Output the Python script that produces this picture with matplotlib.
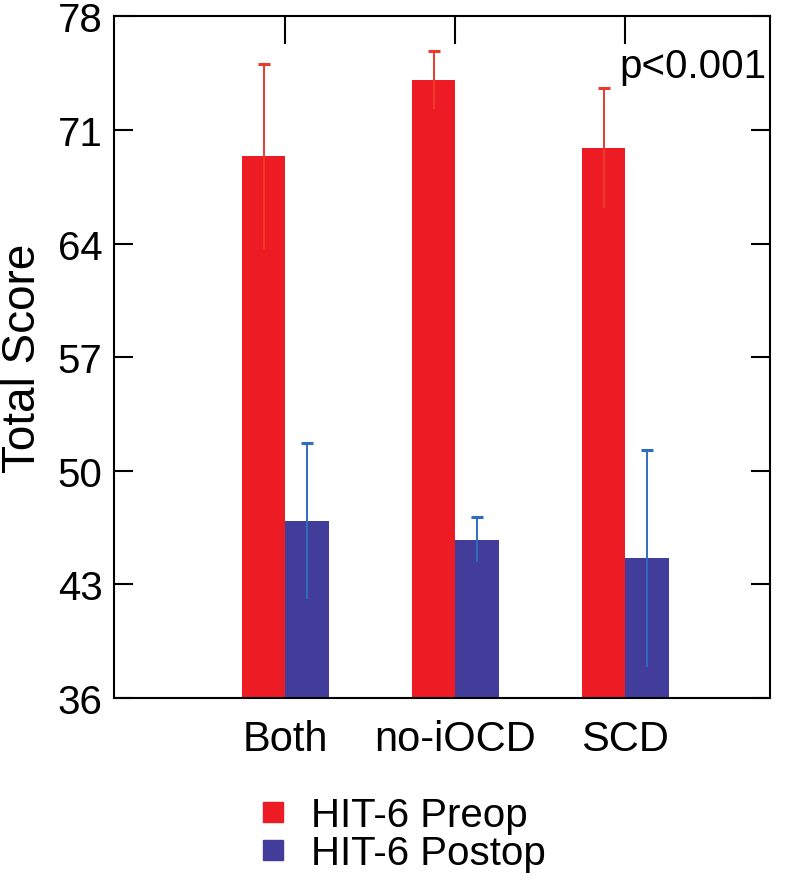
import matplotlib
matplotlib.use("Agg")
import matplotlib.pyplot as plt
import numpy as np
from matplotlib.lines import Line2D

plt.rcParams['font.family'] = ['Liberation Sans', 'DejaVu Sans']

categories = ["Both", "no-iOCD", "SCD"]
preop = [69.4, 74.1, 69.9]
preop_err = [5.7, 1.8, 3.7]
postop = [46.9, 45.75, 44.6]
postop_err = [4.8, 1.4, 6.7]
yticks = [36, 43, 50, 57, 64, 71, 78]
legend_labels = ["HIT-6 Preop", "HIT-6 Postop"]

red = "#ED1C24"
blue = "#423D9A"
red_err = "#EC3A2A"
blue_err = "#2F6DBE"

fig = plt.figure(figsize=(8, 8.95), dpi=100)
ax = fig.add_axes([0.142, 0.2190, 0.8205, 0.7615])

x = np.arange(len(categories))
w = 0.255
ax.bar(x - w / 2, preop, w, color=red, zorder=2)
ax.bar(x + w / 2, postop, w, color=blue, zorder=2)

for xs, vals, errs, col in [(x - w / 2, preop, preop_err, red_err),
                            (x + w / 2, postop, postop_err, blue_err)]:
    vals = np.array(vals)
    errs = np.array(errs)
    ax.errorbar(xs, vals, yerr=errs, fmt='none', ecolor=col,
                elinewidth=1.4, capsize=0, zorder=3)
    ax.plot(xs, vals + errs, linestyle='none', marker='_', markersize=9,
            markeredgewidth=2.2, color=col, zorder=3)

ax.set_ylim(36, 78)
ax.set_xlim(-1.01, 2.85)
ax.set_yticks(yticks)
ax.set_yticklabels([str(t) for t in yticks], fontsize=29)
ax.set_xticks(x)
ax.set_xticklabels(categories, fontsize=30)
ax.tick_params(axis='y', direction='in', length=14, width=1.5, left=True, right=True, pad=8)
ax.tick_params(axis='x', direction='in', length=20, width=1.5, top=True, bottom=False, pad=15)
for s in ax.spines.values():
    s.set_linewidth(1.5)
ax.set_ylabel("Total Score", fontsize=33)
ax.yaxis.set_label_coords(-0.104, 0.5)

ax.text(0.995, 0.955, "p<0.001", transform=ax.transAxes, ha='right', va='top', fontsize=29)

# legend (manual, tight row spacing as in the reference)
colors = [red, blue]
rows_y = [0.076, 0.0335]
for lab, col, yy in zip(legend_labels, colors, rows_y):
    fig.add_artist(Line2D([0.341], [yy + 0.016], transform=fig.transFigure,
                          marker='s', markersize=14.5, color=col, linestyle='none'))
    fig.text(0.389, yy, lab, fontsize=29, ha='left', va='baseline')

fig.savefig("out.png", dpi=100, facecolor='white')
